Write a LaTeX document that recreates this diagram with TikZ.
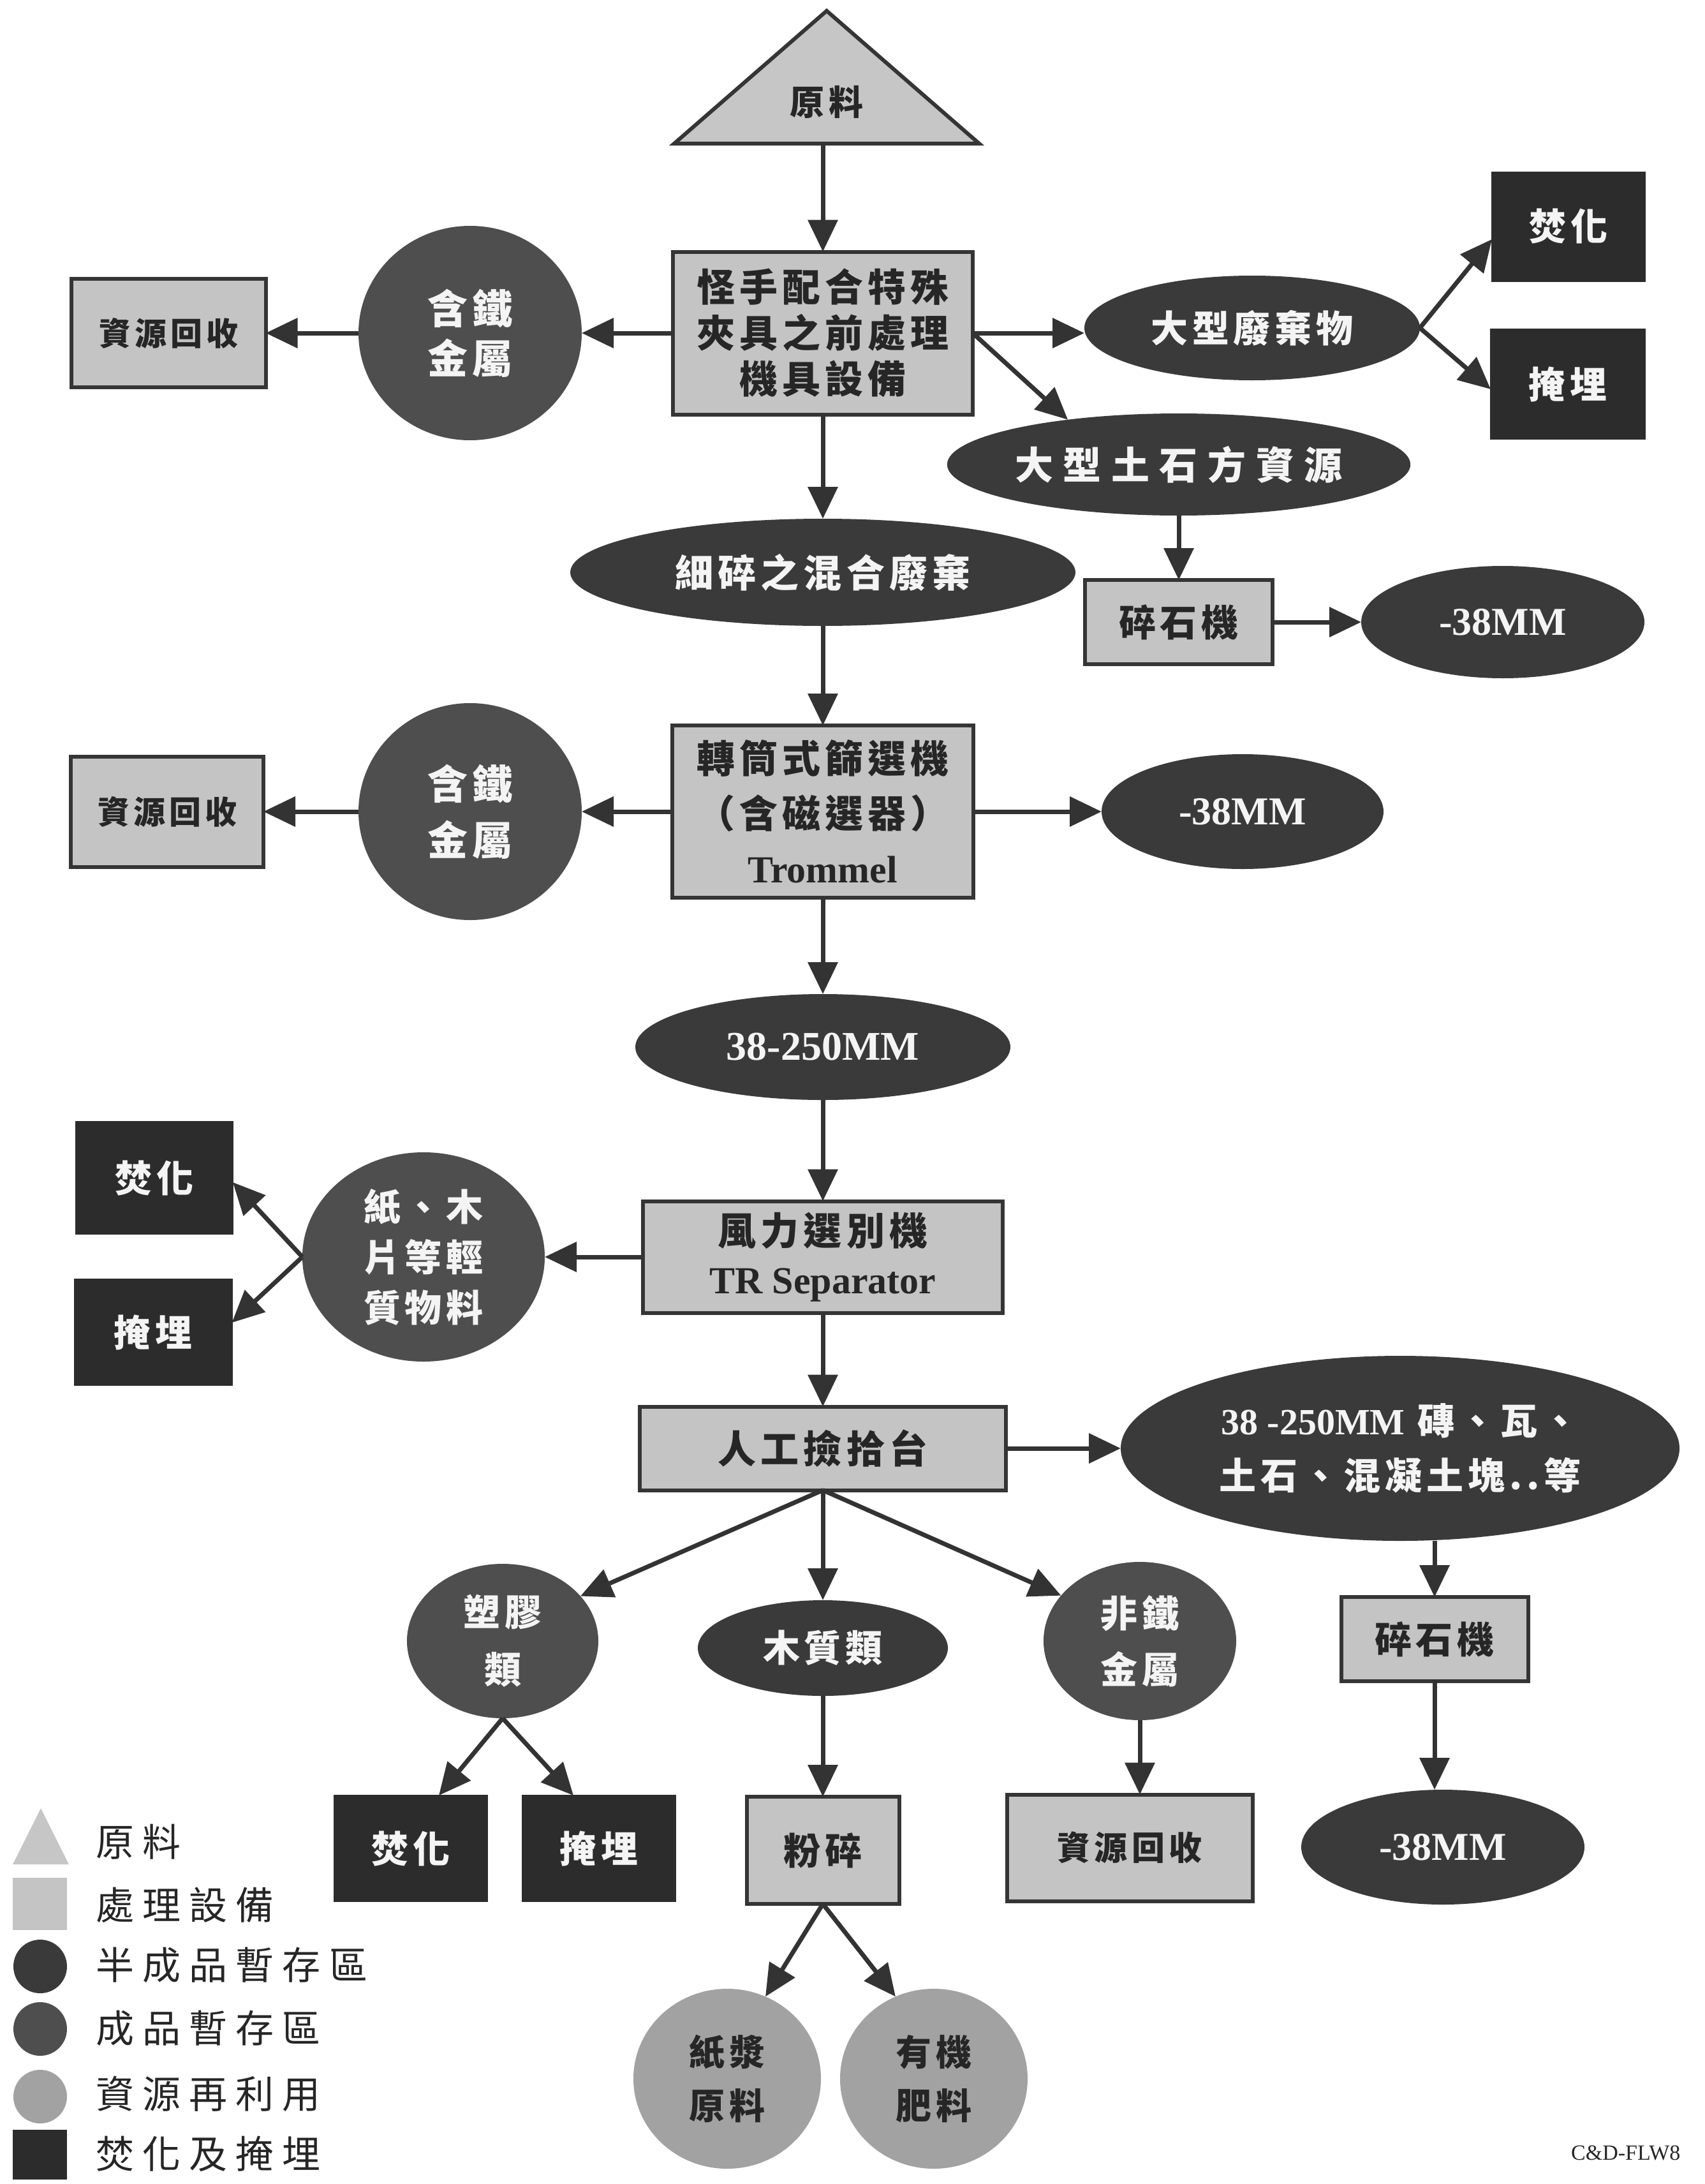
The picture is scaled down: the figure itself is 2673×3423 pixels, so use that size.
\documentclass[tikz,border=0pt]{standalone}
\usepackage{fontspec}
\setmainfont{Liberation Serif}
\newfontfamily\cjk{Noto Sans CJK TC}[LetterSpace=12]
\newfontfamily\cjkwide{Noto Sans CJK TC}[LetterSpace=26]
\newfontfamily\cjkleg{Noto Sans CJK TC}[LetterSpace=22]
\newfontfamily\lat{Liberation Serif}
\usetikzlibrary{arrows.meta,shapes.geometric,calc}
\definecolor{semifill}{HTML}{3A3A3A}
\definecolor{prodfill}{HTML}{4E4E4E}
\definecolor{reusefill}{HTML}{A2A2A2}
\definecolor{procfill}{HTML}{C4C4C4}
\definecolor{burnfill}{HTML}{2C2C2C}
\definecolor{trifill}{HTML}{C6C6C6}
\definecolor{linec}{HTML}{353535}
\definecolor{arrowc}{HTML}{333333}
\definecolor{lighttext}{HTML}{F4F4F4}
\definecolor{darktext}{HTML}{262626}
\newcommand{\fsz}[2]{\fontsize{#1}{#2}\selectfont}
\begin{document}
\begin{tikzpicture}[x=1pt,y=-1pt,
  wh/.style 2 args={minimum width=#1pt, minimum height=#2pt},
  fnt/.style 2 args={font=\cjk\bfseries\fsz{#1}{#2}},
  base/.style={align=center, inner sep=0pt, outer sep=0pt, fnt={58}{78}},
  proc/.style={base, rectangle, fill=procfill, draw=linec, line width=6pt, text=darktext},
  burn/.style={base, rectangle, fill=burnfill, draw=burnfill, line width=2pt, text=lighttext},
  semi/.style={base, ellipse, fill=semifill, text=lighttext},
  prod/.style={base, ellipse, fill=prodfill, text=lighttext},
  reuse/.style={base, ellipse, fill=reusefill, text=darktext},
  arr/.style={-{Triangle[length=50pt,width=46pt]}, line width=7pt, draw=arrowc},
  legtext/.style={anchor=west, inner sep=0pt, font=\cjkleg\fsz{60}{60}, text=darktext}
]
\path[use as bounding box, fill=white] (0,0) rectangle (2673,3423);

% raw material triangle
\filldraw[fill=trifill, draw=linec, line width=6pt] (1296,17) -- (1535,225) -- (1057,225) -- cycle;
\node[base, text=darktext, fnt={54}{60}] (raw) at (1296,160) {原料};
\coordinate (rawb) at (1290,225);

% row 1
\node[proc, wh={470}{255}, fnt={60}{72}] (b1) at (1290,522) {怪手配合特殊\\夾具之前處理\\機具設備};
\node[prod, wh={350}{336}, fnt={63}{78}] (fe1) at (737,522) {含鐵\\金屬};
\node[proc, wh={305}{170}, fnt={50}{60}] (rc1) at (264,522) {資源回收};
\node[semi, wh={526}{164}] (dxf) at (1963,514) {大型廢棄物};
\node[burn, wh={240}{171}] (ftr) at (2459,355) {焚化};
\node[burn, wh={242}{172}] (mtr) at (2458,602) {掩埋};
\node[semi, wh={702}{160}, font=\cjkwide\bfseries\fsz{60}{70}] (ts) at (1848,728) {大型土石方資源};
\node[semi, wh={792}{168}, fnt={60}{70}] (fm) at (1290,897) {細碎之混合廢棄};
\node[proc, wh={294}{132}, fnt={58}{70}] (sc1) at (1848,975) {碎石機};
\node[semi, wh={444}{176}, font=\lat\bfseries\fsz{62}{70}] (m1) at (2356,975) {-38MM};

% row 2 (trommel)
\node[proc, wh={472}{270}, fnt={60}{86}] (tr) at (1290,1272) {轉筒式篩選機\\（含磁選器）\\{\lat Trommel}};
\node[prod, wh={350}{340}, fnt={63}{88}] (fe2) at (737,1272) {含鐵\\金屬};
\node[proc, wh={302}{173}, fnt={50}{60}] (rc2) at (262,1272) {資源回收};
\node[semi, wh={442}{180}, font=\lat\bfseries\fsz{62}{70}] (m2) at (1948,1272) {-38MM};

% 38-250MM
\node[semi, wh={588}{166}, font=\lat\bfseries\fsz{64}{70}] (m38) at (1290,1641) {38-250MM};

% wind separator
\node[proc, wh={564}{175}, fnt={60}{76}] (wf) at (1290,1970) {風力選別機\\{\lat TR Separator}};
\node[prod, wh={380}{328}, fnt={58}{79}] (pw) at (664,1970) {紙、木\\片等輕\\質物料};
\node[burn, wh={246}{176}] (fL) at (242,1846) {焚化};
\node[burn, wh={247}{166}] (mL) at (240,2088) {掩埋};

% manual picking
\node[proc, wh={574}{131}, fnt={60}{70}] (rg) at (1290,2270) {人工撿拾台};
\node[semi, wh={876}{290}, fnt={58}{86}] (brick) at (2195,2270) {{\lat 38 -250MM} 磚、瓦、\\土石、混凝土塊..等};

\node[prod, wh={300}{242}, fnt={58}{90}] (sj) at (788,2572) {塑膠\\類};
\node[semi, wh={392}{150}] (mz) at (1290,2583) {木質類};
\node[prod, wh={302}{248}, fnt={58}{88}] (nf) at (1787,2572) {非鐵\\金屬};
\node[proc, wh={293}{132}] (sc2) at (2249,2569) {碎石機};

\node[burn, wh={240}{166}] (fB) at (644,2897) {焚化};
\node[burn, wh={240}{166}] (mB) at (939,2897) {掩埋};
\node[proc, wh={239}{168}] (fs) at (1290,2900) {粉碎};
\node[proc, wh={385}{167}, fnt={52}{60}] (rcB) at (1771,2896) {資源回收};
\node[semi, wh={444}{180}, font=\lat\bfseries\fsz{62}{70}] (m3) at (2262,2895) {-38MM};

\node[reuse, wh={294}{282}, fnt={56}{84}] (zj) at (1140,3258) {紙漿\\原料};
\node[reuse, wh={294}{282}, fnt={56}{84}] (yj) at (1464,3258) {有機\\肥料};

% connectors
\draw[arr] (rawb) -- (b1.north);
\draw[arr] (b1.west) -- (fe1.east);
\draw[arr] (fe1.west) -- (rc1.east);
\draw[arr] (b1.east) -- (b1.east -| dxf.west);
\draw[arr] (b1.east) -- (ts.158);
\draw[arr] (dxf.east) -- ([yshift=-20pt]ftr.west);
\draw[arr] (dxf.east) -- ([yshift=-8pt]mtr.west);
\draw[arr] (ts.south) -- (sc1.north);
\draw[arr] (sc1.east) -- (m1.west);
\draw[arr] (b1.south) -- (fm.north);
\draw[arr] (fm.south) -- (tr.north);
\draw[arr] (tr.west) -- (fe2.east);
\draw[arr] (fe2.west) -- (rc2.east);
\draw[arr] (tr.east) -- (m2.west);
\draw[arr] (tr.south) -- (m38.north);
\draw[arr] (m38.south) -- (wf.north);
\draw[arr] (wf.west) -- (pw.east);
\draw[arr] (pw.west) -- ([yshift=-7pt]fL.east);
\draw[arr] (pw.west) -- ([yshift=15pt]mL.east);
\draw[arr] (wf.south) -- (rg.north);
\draw[arr] (rg.east) -- (brick.west);
\draw[arr] (sc2.north |- brick.south) -- (sc2.north);
\draw[arr] (sc2.south) -- (sc2.south |- m3.north);
\draw[arr] (rg.south) -- (sj.30);
\draw[arr] (rg.south) -- (mz.north);
\draw[arr] (rg.south) -- (nf.150);
\draw[arr] (sj.south) -- ([xshift=44pt]fB.north);
\draw[arr] (sj.south) -- ([xshift=-40pt]mB.north);
\draw[arr] (mz.south) -- (fs.north);
\draw[arr] (nf.south) -- (nf.south |- rcB.north);
\draw[arr] (fs.south) -- (zj.65);
\draw[arr] (fs.south) -- (yj.115);

% legend
\fill[trifill] (64,2834) -- (108,2922) -- (20,2922) -- cycle;
\node[rectangle, fill=procfill, inner sep=0pt, wh={85}{82}] (lg2) at (62,2984) {};
\node[circle, fill=semifill, inner sep=0pt, minimum size=84pt] (lg3) at (63,3082) {};
\node[circle, fill=prodfill, inner sep=0pt, minimum size=84pt] (lg4) at (63,3180) {};
\node[circle, fill=reusefill, inner sep=0pt, minimum size=84pt] (lg5) at (63,3286) {};
\node[rectangle, fill=burnfill, inner sep=0pt, wh={85}{78}] (lg6) at (62,3377) {};
\node[legtext] (lt1) at (150,2887) {原料};
\node[legtext] (lt2) at (150,2986) {處理設備};
\node[legtext] (lt3) at (150,3080) {半成品暫存區};
\node[legtext] (lt4) at (150,3179) {成品暫存區};
\node[legtext] (lt5) at (150,3282) {資源再利用};
\node[legtext] (lt6) at (150,3376) {焚化及掩埋};

\node[anchor=west, inner sep=0pt, font=\lat\fsz{34}{34}, text=darktext] (code) at (2463,3374) {C\&D-FLW8};
\end{tikzpicture}
\end{document}
